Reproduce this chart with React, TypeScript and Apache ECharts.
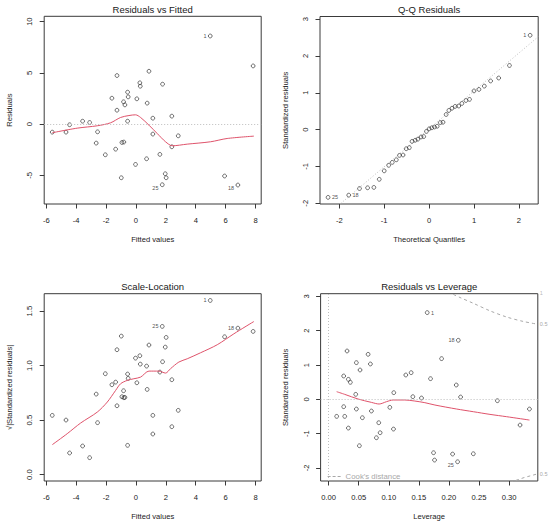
import React, { useEffect, useRef } from "react";
import * as echarts from "echarts";

// ---------- Data ----------
const fittedValues = [-5.6, -4.68, -4.44, -3.57, -3.1, -2.57, -2.66, -2.05, -1.61, -1.27, -1.27, -1.36, -0.98, -0.94, -0.81, -0.83, -0.74, -0.56, -0.52, -0.56, -0.03, 0.06, 0.26, 0.29, 0.75, 0.71, 0.87, 1.13, 1.13, 1.6, 1.76, 1.78, 1.96, 2.02, 2.4, 2.4, 2.83, 4.97, 5.93, 6.82, 7.84];
const residuals = [-0.78, -0.78, -0.06, 0.29, 0.16, -0.75, -1.85, -2.99, 2.53, 4.74, 1.36, -2.44, -5.23, -1.79, -1.75, 2.18, 1.88, 3.12, 2.66, 0.29, -3.93, 2.47, 4.03, 3.7, 2.05, -3.38, 5.16, 0.58, -0.97, -2.95, -5.91, 3.9, -4.84, -5.23, 0.78, -2.21, -1.14, 8.6, -5.06, -5.94, 5.68];
const residSmoothX = [-5.6, -3.93, -2.59, -1.7, -1.03, -0.47, -0.03, 0.31, 0.87, 1.42, 1.98, 2.43, 3.43, 4.99, 6.1, 7.89];
const residSmoothY = [-0.84, -0.39, -0.16, 0.13, 0.65, 0.84, 0.91, 0.65, -0.1, -0.91, -1.72, -2.11, -1.95, -1.72, -1.4, -1.17];

const theoreticalQuantiles = [-2.25, -1.79, -1.55, -1.37, -1.23, -1.11, -1.0, -0.9, -0.82, -0.73, -0.66, -0.58, -0.51, -0.44, -0.38, -0.31, -0.25, -0.18, -0.12, -0.06, 0, 0.06, 0.12, 0.18, 0.25, 0.31, 0.38, 0.44, 0.51, 0.58, 0.66, 0.73, 0.82, 0.9, 1.0, 1.11, 1.23, 1.37, 1.55, 1.79, 2.25];
const sortedStdResiduals = [-1.84, -1.78, -1.6, -1.58, -1.57, -1.35, -1.12, -0.97, -0.89, -0.82, -0.7, -0.69, -0.52, -0.49, -0.32, -0.29, -0.26, -0.2, -0.19, -0.05, 0.02, 0.05, 0.07, 0.09, 0.19, 0.2, 0.41, 0.52, 0.58, 0.63, 0.64, 0.71, 0.79, 0.82, 1.05, 1.09, 1.18, 1.32, 1.4, 1.74, 2.56];
const qqLineX = [-2.43, 2.43];
const qqLineY = [-2.48, 2.52];

const sqrtAbsStdResiduals = [0.544, 0.501, 0.199, 0.263, 0.156, 0.477, 0.739, 0.926, 0.825, 1.146, 0.632, 0.849, 1.271, 0.715, 0.706, 0.77, 0.709, 0.923, 0.883, 0.269, 1.069, 0.843, 1.091, 1.014, 0.782, 0.996, 1.189, 0.373, 0.544, 0.941, 1.36, 1.036, 1.17, 1.259, 0.44, 0.871, 0.59, 1.598, 1.265, 1.344, 1.314];
const scaleSmoothX = [-5.6, -4.6, -3.7, -2.59, -1.92, -1.36, -1.03, -0.58, -0.14, 0.31, 0.87, 1.53, 1.98, 2.31, 2.87, 3.43, 4.32, 5.44, 6.55, 7.89];
const scaleSmoothY = [0.275, 0.376, 0.474, 0.574, 0.666, 0.773, 0.834, 0.865, 0.88, 0.895, 0.95, 0.95, 0.932, 0.972, 1.033, 1.063, 1.118, 1.192, 1.292, 1.405];

const leverage = [0.0133, 0.025, 0.025, 0.0267, 0.0306, 0.0328, 0.0328, 0.0361, 0.045, 0.0461, 0.0461, 0.0511, 0.0522, 0.0561, 0.0656, 0.0694, 0.0711, 0.0794, 0.0833, 0.0856, 0.1017, 0.1078, 0.1083, 0.1283, 0.1372, 0.14, 0.1544, 0.1639, 0.1694, 0.1744, 0.1761, 0.1878, 0.2061, 0.2122, 0.2144, 0.2156, 0.2194, 0.2406, 0.2806, 0.3183, 0.3339];
const leverageStdResiduals = [-0.496, 0.681, -0.214, -0.496, 1.41, 0.584, -0.837, 0.496, 0.146, 1.07, -0.282, -1.352, 0.856, -0.535, 1.313, 1.031, -0.34, -1.119, -0.681, -0.973, -0.233, -0.866, 0.195, 0.71, 0.778, 0.078, 0.039, 2.529, 0.603, -1.556, -1.77, 1.187, -1.595, 0.418, -1.819, 1.722, 0.068, -1.586, -0.039, -0.749, -0.282];
const levSmoothX = [0.0133, 0.0267, 0.0489, 0.0711, 0.0839, 0.0961, 0.1072, 0.1267, 0.1433, 0.16, 0.1767, 0.2128, 0.2406, 0.2683, 0.2961, 0.3339];
const levSmoothY = [0.224, 0.146, 0.01, -0.088, -0.136, -0.068, -0.019, -0.019, -0.049, -0.097, -0.165, -0.282, -0.36, -0.438, -0.506, -0.603];
const cookUpperX = [0.2072, 0.2183, 0.2406, 0.2683, 0.2961, 0.3239, 0.3478];
const cookUpperY = [3.06, 2.97, 2.8, 2.58, 2.4, 2.27, 2.19];
const cookLowerX = [0.302, 0.325, 0.3478];
const cookLowerY = [-2.42, -2.28, -2.17];
const cookOneLabelPoint = [0.3478, 3.1];

const titles = ["Residuals vs Fitted", "Q-Q Residuals", "Scale-Location", "Residuals vs Leverage"];
const xNames = ["Fitted values", "Theoretical Quantiles", "Fitted values", "Leverage"];
const yNames = ["Residuals", "Standardized residuals", "√|Standardized residuals|", "Standardized residuals"];
const cookLegendText = "Cook's distance";

const fittedTicks = [-6, -4, -2, 0, 2, 4, 6, 8];
const residTicks = [-5, 0, 5, 10];
const qqXTicks = [-2, -1, 0, 1, 2];
const qqYTicks = [-2, -1, 0, 1, 2, 3];
const scaleTicks = [0, 0.5, 1, 1.5];
const levXTicks = [0, 0.05, 0.1, 0.15, 0.2, 0.25, 0.3];
const levYTicks = [-2, -1, 0, 1, 2, 3];

// point labels: index into the panel's data, text, side
const residLabels = [{ i: 37, t: "1", p: "left", o: 0 }, { i: 30, t: "25", p: "left", o: 3 }, { i: 39, t: "18", p: "left", o: 3 }];
const qqLabels = [{ i: 40, t: "1", p: "left", o: 0 }, { i: 0, t: "25", p: "right", o: 0 }, { i: 1, t: "18", p: "right", o: 0 }];
const scaleLabels = [{ i: 37, t: "1", p: "left", o: 0 }, { i: 30, t: "25", p: "left", o: 0 }, { i: 39, t: "18", p: "left", o: 0 }];
const levLabels = [{ i: 27, t: "1", p: "right", o: 0 }, { i: 34, t: "25", p: "left", o: 3 }, { i: 35, t: "18", p: "left", o: 0 }];

const ZERO = 0;

// ---------- Styles ----------
const FONT = "'Liberation Sans', Arial, sans-serif";
const TXT = "#222222";
const BOX = "#3a3a3a";
const RED = "#DF536B";
const GRAY = "#bdbdbd";
const COOK = "#a8a8a8";

const grids = [
  { left: 44.2, top: 16.3, width: 217, height: 187.7 },
  { left: 320, top: 16.5, width: 218.2, height: 187.5 },
  { left: 44.2, top: 293.7, width: 217, height: 187.3 },
  { left: 320.6, top: 293.7, width: 217.2, height: 187.3 },
];

const ranges = [
  { x: [-6.14, 8.38], y: [-7.79, 10.52] },
  { x: [-2.43, 2.43], y: [-2.02, 3.07] },
  { x: [-6.14, 8.38], y: [-0.058, 1.66] },
  { x: [-0.0134, 0.3478], y: [-2.38, 3.08] },
];

const zip = (xs: number[], ys: number[]) => xs.map((x, i) => [x, ys[i]]);

function xAxis(gi: number, ticks: number[], fmt: (v: number) => string) {
  return {
    type: "value", gridIndex: gi, min: ranges[gi].x[0], max: ranges[gi].x[1],
    axisLine: { show: false, onZero: false },
    splitLine: { show: false },
    axisTick: { show: true, length: 4.5, customValues: ticks, lineStyle: { color: BOX, width: 1 } },
    axisLabel: { customValues: ticks, formatter: fmt, fontSize: 7.6, color: TXT, margin: 12, fontFamily: FONT },
    name: xNames[gi], nameLocation: "middle", nameGap: 31,
    nameTextStyle: { fontSize: 7.6, color: TXT, fontFamily: FONT },
  };
}
function yAxis(gi: number, ticks: number[], fmt: (v: number) => string) {
  return {
    type: "value", gridIndex: gi, min: ranges[gi].y[0], max: ranges[gi].y[1],
    axisLine: { show: false, onZero: false },
    splitLine: { show: false },
    axisTick: { show: true, length: 4.5, customValues: ticks, lineStyle: { color: BOX, width: 1 } },
    axisLabel: { customValues: ticks, formatter: fmt, fontSize: 7.6, color: TXT, margin: 10.5, rotate: 90, fontFamily: FONT },
    name: yNames[gi], nameLocation: "middle", nameGap: 31, nameRotate: 90,
    nameTextStyle: { fontSize: 7.6, color: TXT, fontFamily: FONT },
  };
}

function points(gi: number, xs: number[], ys: number[], labels: { i: number; t: string; p: string; o: number }[]) {
  const data = xs.map((x, i) => {
    const lab = labels.find((l) => l.i === i);
    if (!lab) return [x, ys[i]];
    return {
      value: [x, ys[i]],
      label: { show: true, formatter: lab.t, position: lab.p, distance: 1.5, offset: [0, lab.o], fontSize: 5.5, color: TXT, fontFamily: FONT },
    };
  });
  return {
    type: "scatter", xAxisIndex: gi, yAxisIndex: gi, data, symbol: "circle", symbolSize: 3.8,
    itemStyle: { color: "transparent", borderColor: "#1e1e1e", borderWidth: 0.8 },
    silent: true, z: 3,
  };
}

function smooth(gi: number, xs: number[], ys: number[]) {
  return {
    type: "line", xAxisIndex: gi, yAxisIndex: gi, data: zip(xs, ys), showSymbol: false, symbol: "none",
    smooth: 0.3, lineStyle: { color: RED, width: 1 }, silent: true, z: 4,
  };
}

function zeroLines(gi: number, horizontal: boolean, vertical: boolean) {
  const d: any[] = [];
  if (horizontal) d.push({ yAxis: ZERO });
  if (vertical) d.push({ xAxis: ZERO });
  return {
    type: "line", xAxisIndex: gi, yAxisIndex: gi, data: [], silent: true, z: 1, color: GRAY,
    markLine: { silent: true, symbol: "none", label: { show: false }, data: d, lineStyle: { color: GRAY, type: [1, 2], width: 1 } },
  };
}

export default function App() {
  const ref = useRef<HTMLDivElement>(null);
  useEffect(() => {
    if (!ref.current) return;
    const chart = echarts.init(ref.current, undefined, { renderer: "svg" });
    const fmtInt = (v: number) => String(Math.round(v));
    const fmt1 = (v: number) => v.toFixed(1);
    const fmt2 = (v: number) => v.toFixed(2);
    const g4 = grids[3];
    const legendY = g4.top + g4.height - 4.5;
    const option: any = {
      animation: false,
      backgroundColor: "#ffffff",
      textStyle: { fontFamily: FONT },
      title: titles.map((t, gi) => ({
        text: t, left: grids[gi].left + grids[gi].width / 2, top: grids[gi].top - 11.8, textAlign: "center", padding: 0,
        textStyle: { fontSize: 9.5, fontWeight: "normal", color: "#1a1a1a", fontFamily: FONT },
      })),
      grid: grids.map((g) => ({ ...g, show: true, borderColor: BOX, borderWidth: 1, backgroundColor: "transparent", containLabel: false })),
      graphic: [
        {
          type: "group", silent: true,
          children: [
            { type: "line", shape: { x1: g4.left + 7, y1: legendY, x2: g4.left + 22, y2: legendY }, style: { stroke: COOK, lineWidth: 1, lineDash: [3, 2] } },
            { type: "text", x: g4.left + 25, y: legendY, style: { text: cookLegendText, fill: COOK, fontSize: 7.8, fontFamily: FONT, verticalAlign: "middle", align: "left" } },
          ],
        },
      ],
      xAxis: [xAxis(0, fittedTicks, fmtInt), xAxis(1, qqXTicks, fmtInt), xAxis(2, fittedTicks, fmtInt), xAxis(3, levXTicks, fmt2)],
      yAxis: [yAxis(0, residTicks, fmtInt), yAxis(1, qqYTicks, fmtInt), yAxis(2, scaleTicks, fmt1), yAxis(3, levYTicks, fmtInt)],
      series: [
        zeroLines(0, true, false),
        points(0, fittedValues, residuals, residLabels),
        smooth(0, residSmoothX, residSmoothY),

        {
          type: "line", xAxisIndex: 1, yAxisIndex: 1, data: zip(qqLineX, qqLineY), showSymbol: false, symbol: "none",
          lineStyle: { color: GRAY, type: [1, 2], width: 1 }, silent: true, z: 1,
        },
        points(1, theoreticalQuantiles, sortedStdResiduals, qqLabels),

        points(2, fittedValues, sqrtAbsStdResiduals, scaleLabels),
        smooth(2, scaleSmoothX, scaleSmoothY),

        zeroLines(3, true, true),
        points(3, leverage, leverageStdResiduals, levLabels),
        smooth(3, levSmoothX, levSmoothY),
        {
          name: cookLegendText, type: "line", xAxisIndex: 3, yAxisIndex: 3, data: zip(cookUpperX, cookUpperY), color: COOK,
          showSymbol: false, symbol: "none", smooth: 0.3, lineStyle: { color: COOK, type: [3, 3], width: 1 }, silent: true,
          endLabel: { show: true, formatter: "0.5", fontSize: 5.5, color: COOK, distance: 2, fontFamily: FONT },
        },
        {
          name: cookLegendText, type: "line", xAxisIndex: 3, yAxisIndex: 3, data: zip(cookLowerX, cookLowerY), color: COOK,
          showSymbol: false, symbol: "none", lineStyle: { color: COOK, type: [3, 3], width: 1 }, silent: true,
          endLabel: { show: true, formatter: "0.5", fontSize: 5.5, color: COOK, distance: 2, fontFamily: FONT },
        },
        {
          name: "cook-1", type: "scatter", xAxisIndex: 3, yAxisIndex: 3, data: [cookOneLabelPoint], symbolSize: 0, clip: false, silent: true,
          label: { show: true, formatter: "1", position: "right", distance: 2, fontSize: 5.5, color: COOK, fontFamily: FONT },
        },
      ],
    };
    chart.setOption(option);
    return () => chart.dispose();
  }, []);
  return <div ref={ref} style={{ position: "absolute", left: 0, top: 0, width: 550, height: 525 }} />;
}
